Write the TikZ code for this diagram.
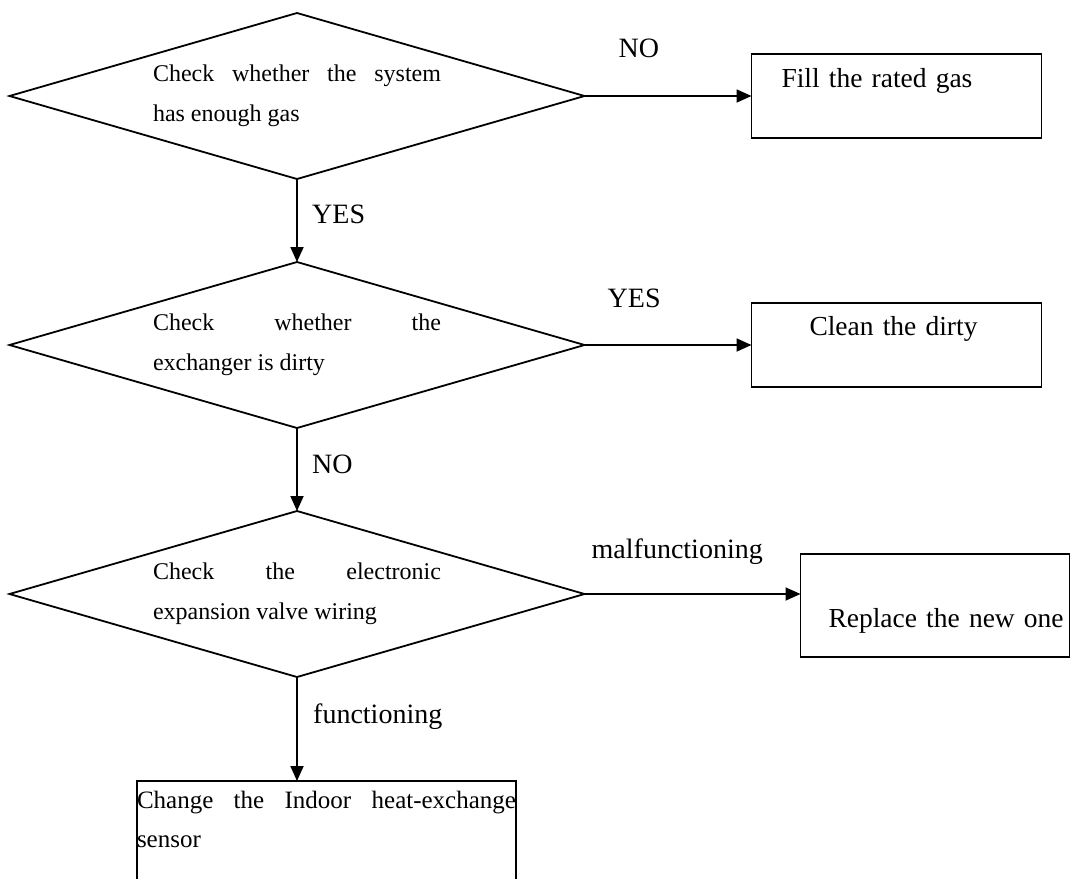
\documentclass[tikz,border=0pt]{standalone}
\usepackage{fontspec}
\setmainfont{Liberation Serif}
\usepackage{tikz}
\usetikzlibrary{shapes.geometric, arrows.meta, positioning}

\begin{document}
\begin{tikzpicture}[
    x=1pt, y=1pt, node distance=83pt and 167pt,
    decision/.style={diamond, draw, line width=1.8pt, aspect=3.46, minimum width=575pt, minimum height=166pt, inner sep=0pt, outer sep=0pt, text width=288pt, align=justify, font=\fontsize{24}{40}\selectfont},
    actbox/.style={rectangle, draw, line width=1.8pt, inner sep=0pt, outer sep=0pt, align=left, font=\fontsize{27.5}{34}\selectfont},
    tag/.style={inner sep=0pt, anchor=base west, font=\fontsize{28}{34}\selectfont},
    line/.style={draw, line width=1.8pt, -{Triangle[length=15pt,width=13pt]}}
  ]
    \useasboundingbox (0,0) rectangle (1080,-879);

    \node (d1) [decision] at (297,-96) {Check whether the system\linebreak has enough gas};
    \node (d2) [decision, below=of d1] {Check whether the\linebreak exchanger is dirty};
    \node (d3) [decision, below=of d2] {Check the electronic\linebreak expansion valve wiring};

    \node (b1) [actbox, right=of d1, text width=290pt, text height=33pt, text depth=51pt] {\hspace*{30pt}Fill the rated gas};
    \node (b2) [actbox, right=of d2, text width=290pt, text height=32pt, text depth=52pt] {\hspace*{58pt}Clean the dirty};
    \node (b3) [actbox, right=216pt of d3, yshift=-11.5pt, text width=269pt, text height=73pt, text depth=30pt] {\hspace*{28pt}Replace the new one};
    \node (b4) [actbox, anchor=north west, align=justify, text width=379pt, text height=27pt, text depth=100pt, font=\fontsize{25}{39}\selectfont] at (137,-781) {Change the Indoor heat-exchange\linebreak sensor};

    \draw[line] (d1) -- (b1);
    \draw[line] (d1) -- (d2);
    \draw[line] (d2) -- (b2);
    \draw[line] (d2) -- (d3);
    \draw[line] (d3.east) -- (d3.east -| b3.west);
    \draw[line] (d3.south) -- (d3.south |- b4.north);

    \node (t1) [tag] at ([shift={(34pt,39pt)}]d1.east) {NO};
    \node (t2) [tag] at ([shift={(15pt,-44pt)}]d1.south) {YES};
    \node (t3) [tag] at ([shift={(23pt,38pt)}]d2.east) {YES};
    \node (t4) [tag] at ([shift={(15pt,-45pt)}]d2.south) {NO};
    \node (t5) [tag] at ([shift={(7pt,36pt)}]d3.east) {malfunctioning};
    \node (t6) [tag] at ([shift={(16pt,-46pt)}]d3.south) {functioning};
  \end{tikzpicture}
\end{document}
